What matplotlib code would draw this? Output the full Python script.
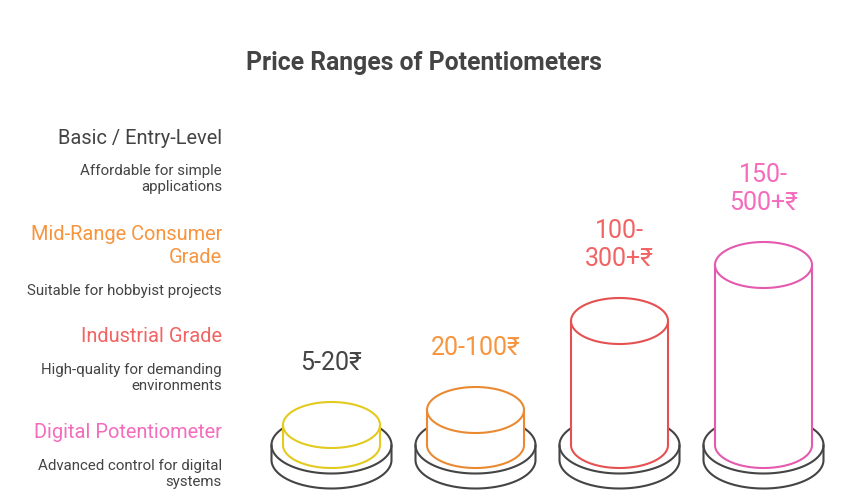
import numpy as np
import matplotlib.pyplot as plt
from matplotlib.patches import Polygon

plt.rcParams['font.family'] = ['Roboto', 'DejaVu Sans']

# data
tiers = ["Basic / Entry-Level", "Mid-Range Consumer\nGrade", "Industrial Grade", "Digital Potentiometer"]
notes = ["Affordable for simple\napplications", "Suitable for hobbyist projects",
         "High-quality for demanding\nenvironments", "Advanced control for digital\nsystems"]
price_labels = ["5-20₹", "20-100₹", "100-\n300+₹", "150-\n500+₹"]
bar_heights = [20, 35, 124, 180]   # visual cylinder heights (px)

tier_colors = ["#444444", "#F7953F", "#F26363", "#F46CBC"]
stroke_colors = ["#E3CA1E", "#E98A33", "#E55151", "#E35AAE"]
label_colors = ["#444444", "#F7953F", "#F26363", "#F46CBC"]
base_color = "#444444"

fig = plt.figure(figsize=(8.49, 5.03), dpi=100)
ax = fig.add_axes([0, 0, 1, 1])
ax.set_xlim(0, 849)
ax.set_ylim(503, 0)
ax.axis('off')

ax.text(424, 63, "Price Ranges of Potentiometers", ha='center', va='center',
        fontsize=17.8, fontweight='bold', color="#444444")

# left legend text
head_y = [138, 246, 336, 433]
note_y = [179, 291, 378, 474]
for i in range(4):
    ax.text(222, head_y[i], tiers[i], ha='right', va='center', fontsize=14.4,
            color=tier_colors[i], linespacing=1.3)
    ax.text(222, note_y[i], notes[i], ha='right', va='center', fontsize=10.8,
            color="#444444", linespacing=1.25)

t = np.linspace(0, np.pi, 100)
lw = 1.5


def half(cx, cy, a, b, front=True):
    # front half of ellipse goes to larger y (pixel axis inverted)
    s = 1 if front else -1
    return np.column_stack([cx - a * np.cos(t), cy + s * b * np.sin(t)])


def cylinder(cx, y_bot, h, a, b, color):
    y_top = y_bot - h
    front = half(cx, y_bot, a, b)
    back = half(cx, y_top, a, b, front=False)[::-1]
    body = np.vstack([[[cx - a, y_top]], front, back])
    ax.add_patch(Polygon(body, closed=True, facecolor='white', edgecolor=color, lw=lw, joinstyle='round'))
    ax.plot(*half(cx, y_top, a, b).T, color=color, lw=lw, solid_capstyle='round')


base_a, base_b, base_th = 60, 28.5, 15
cyl_a, cyl_b = 48.5, 23
x0, step = 331.5, 144
base_top = 445

for i, h in enumerate(bar_heights):
    cx = x0 + i * step
    cylinder(cx, base_top + base_th, base_th, base_a, base_b, base_color)
    cylinder(cx, base_top, h, cyl_a, cyl_b, stroke_colors[i])
    ax.text(cx, base_top - h - cyl_b - 32, price_labels[i], ha='center', va='baseline',
            fontsize=18, color=label_colors[i], linespacing=1.22)

fig.savefig("out.png", dpi=100, facecolor='white')
